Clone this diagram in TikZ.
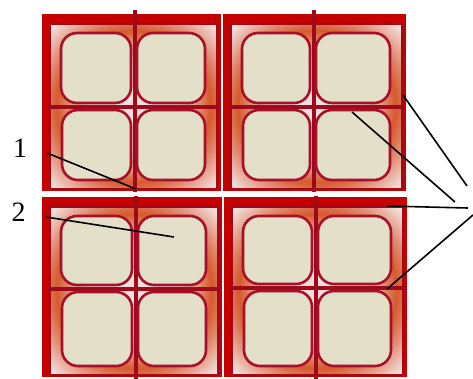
\documentclass[tikz,border=0pt]{standalone}
\usepackage{fontspec}
\setmainfont{Liberation Serif}
\definecolor{framered}{HTML}{C40000}
\definecolor{darkred}{HTML}{9E0A1A}
\definecolor{cellfill}{HTML}{E3DFC9}
\definecolor{celledge}{HTML}{A8102A}
\definecolor{orng}{HTML}{D65A2E}
\definecolor{pale}{HTML}{F2DEDC}
\pgfdeclareradialshading{panelshade}{\pgfpoint{0bp}{0bp}}{color(0bp)=(pale); color(14bp)=(pale); color(23bp)=(orng); color(34bp)=(pale); color(50bp)=(pale)}

\begin{document}
\begin{tikzpicture}[x=1pt,y=-1pt,
    cell/.style={draw=celledge,line width=2.6pt,fill=cellfill,rounded corners=16pt},
    divider/.style={draw=darkred,line width=3.5pt},
    leader/.style={draw=black,line width=1.6pt},
    numlabel/.style={font=\fontsize{28}{30}\selectfont,inner sep=0pt}]
            \useasboundingbox[fill=white] (0,0) rectangle (473,378);
            \foreach \xa/\ya/\xb/\yb/\xd/\yd in {42/14/221/191/135/107, 223/14/406/191/314/107,
                                                  42/197/222/377/136/289, 224/197/407/377/316/288}
            {
                \fill[framered] (\xa,\ya) rectangle (\xb,\yb);
                \shade[shading=panelshade] (\xa+8,\ya+10) rectangle (\xb-4,\yb-2);
                \draw[darkred,line width=2.5pt] (\xa+8,\ya+10) rectangle (\xb-4,\yb-2);
                \draw[divider] (\xd,\ya-4) -- (\xd,\yb+2);
                \draw[divider] (\xa+6,\yd) -- (\xb-2,\yd);
                \draw[cell] (\xa+19,\ya+19) rectangle (\xd-4,\yd-4);
                \draw[cell] (\xd+2,\ya+19) rectangle (\xb-16,\yd-4);
                \draw[cell] (\xa+20,\yd+3) rectangle (\xd-4,\yb-11);
                \draw[cell] (\xd+2,\yd+3) rectangle (\xb-16,\yb-11);
            }
            \fill[white] (42,191.5) rectangle (407,195.5);
            \node[numlabel] (lbl1) at (20,148) {1};
            \node[numlabel] (lbl2) at (18.5,212) {2};
            \coordinate (p1) at (47,153);  \coordinate (q1) at (136,189);
            \coordinate (p2) at (46,217);  \coordinate (q2) at (174,237);
            \coordinate (a1) at (403,95);  \coordinate (b1) at (467,186);
            \coordinate (a2) at (352,112); \coordinate (b2) at (455,202);
            \coordinate (a3) at (387,206); \coordinate (b3) at (468,208);
            \coordinate (a4) at (387,289); \coordinate (b4) at (473,215);
            \draw[leader] (p1) -- (q1);
            \draw[leader] (p2) -- (q2);
            \foreach \i in {1,...,4}
                \draw[leader] (a\i) -- (b\i);
\end{tikzpicture}
\end{document}
